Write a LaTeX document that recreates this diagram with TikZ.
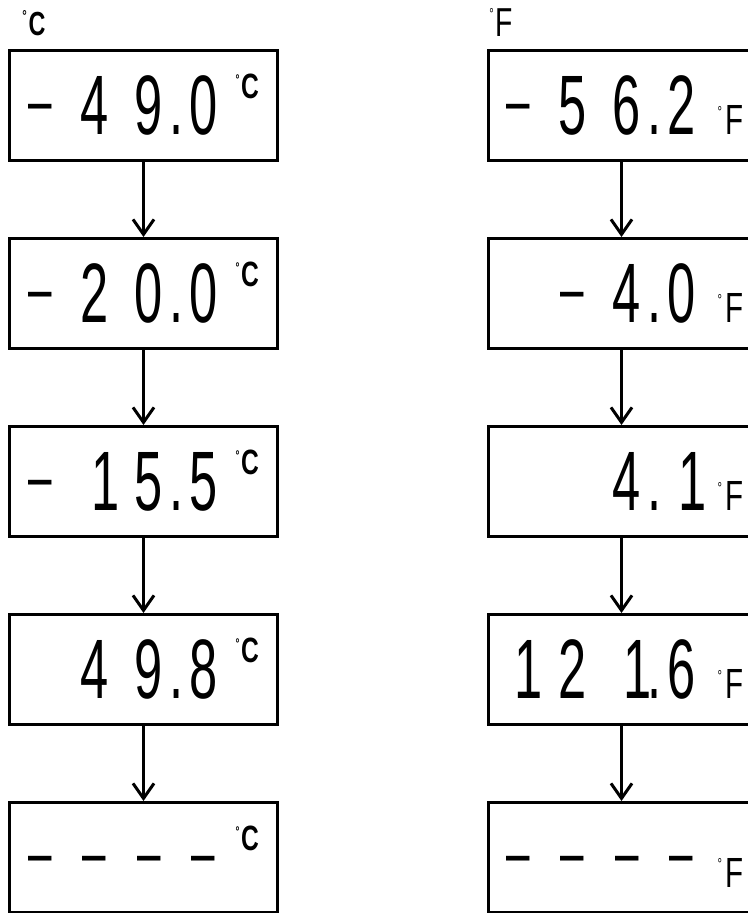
\documentclass[tikz,border=0pt]{standalone}
\usepackage{fontspec}
\setmainfont{Liberation Sans}
\newfontfamily\lcdfont[FakeStretch=0.6]{Liberation Sans}
\newfontfamily\unitfont[FakeStretch=0.7]{Liberation Sans}
\usetikzlibrary{arrows.meta}
\tikzset{>={Straight Barb[length=0.3cm,width=0.42cm]}}
\tikzset{
  display/.style={draw, line width=0.06cm, minimum width=5.34cm, minimum height=2.2cm, inner sep=0pt},
  reading/.style={anchor=base west, inner sep=0pt, font=\lcdfont\fontsize{48}{48}\selectfont},
  flow/.style={->, line width=0.06cm}
}
% one digit cell of the display
\newcommand{\dcell}[1]{\makebox[1.09cm][c]{#1}}
\newcommand{\rcell}[1]{\makebox[1.09cm][r]{#1\hspace{0.04cm}}}
\newcommand{\dsh}{\dcell{\raisebox{6pt}{\fontsize{40}{40}\selectfont –}}}
\newcommand{\dpt}{\makebox[0pt]{.}}
\newcommand{\degC}{\hspace{0.1cm}\raisebox{0.72cm}{\unitfont\fontsize{20}{20}\selectfont\bfseries\raisebox{8pt}{\fontsize{8}{8}\selectfont °}\hspace{1pt}C}}
\newcommand{\degF}{\hspace{0.18cm}{\unitfont\fontsize{24}{24}\selectfont\raisebox{10pt}{\fontsize{9}{9}\selectfont °}\hspace{2pt}F}}

\begin{document}
\begin{tikzpicture}
  \useasboundingbox (0,0) rectangle (14.96,18.26);
  % column heads
  \node[anchor=base west, inner sep=0pt] (headC) at (0.44,17.54) {\unitfont\fontsize{19}{19}\selectfont\bfseries\raisebox{8pt}{\fontsize{9}{9}\selectfont °}\hspace{1pt}C};
  \node[anchor=base west, inner sep=0pt] (headF) at (9.78,17.52) {\unitfont\fontsize{23}{23}\selectfont\raisebox{10pt}{\fontsize{9}{9}\selectfont °}\hspace{1pt}F};

  % display boxes
  \foreach \i/\y in {1/16.15, 2/12.39, 3/8.63, 4/4.87, 5/1.11} {
    \node[display] (c\i) at (2.87,\y) {};
    \node[display] (f\i) at (12.43,\y) {};
  }
  \foreach \i/\j in {1/2, 2/3, 3/4, 4/5} {
    \draw[flow] (c\i) -- (c\j);
    \draw[flow] (f\i) -- (f\j);
  }

  % readings in celsius
  \node[reading] (cv1) at ([xshift=0.075cm, yshift=-0.59cm]c1.west) {\dsh\dcell{4}\dcell{9}\dpt\dcell{0}\degC};
  \node[reading] (cv2) at ([xshift=0.075cm, yshift=-0.59cm]c2.west) {\dsh\dcell{2}\dcell{0}\dpt\dcell{0}\degC};
  \node[reading] (cv3) at ([xshift=0.075cm, yshift=-0.59cm]c3.west) {\dsh\rcell{1}\dcell{5}\dpt\dcell{5}\degC};
  \node[reading] (cv4) at ([xshift=0.075cm, yshift=-0.59cm]c4.west) {\dcell{}\dcell{4}\dcell{9}\dpt\dcell{8}\degC};
  \node[reading] (cv5) at ([xshift=0.075cm, yshift=-0.59cm]c5.west) {\dsh\dsh\dsh\dsh\degC};

  % readings in fahrenheit
  \node[reading] (fv1) at ([xshift=0.075cm, yshift=-0.59cm]f1.west) {\dsh\dcell{5}\dcell{6}\dpt\dcell{2}\degF};
  \node[reading] (fv2) at ([xshift=0.075cm, yshift=-0.59cm]f2.west) {\dcell{}\dsh\dcell{4}\dpt\dcell{0}\degF};
  \node[reading] (fv3) at ([xshift=0.075cm, yshift=-0.59cm]f3.west) {\dcell{}\dcell{}\dcell{4}\dpt\rcell{1}\degF};
  \node[reading] (fv4) at ([xshift=0.075cm, yshift=-0.59cm]f4.west) {\rcell{1}\dcell{2}\rcell{1}\dpt\dcell{6}\degF};
  \node[reading] (fv5) at ([xshift=0.075cm, yshift=-0.59cm]f5.west) {\dsh\dsh\dsh\dsh\degF};
\end{tikzpicture}
\end{document}
